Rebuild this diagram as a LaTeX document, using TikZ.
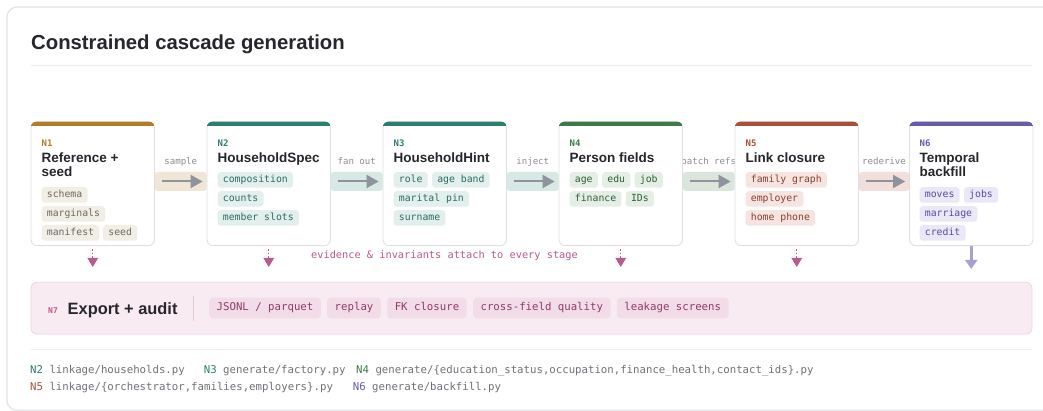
\documentclass[tikz,border=0pt]{standalone}
\usepackage{fontspec}
\setmainfont{Liberation Sans}
\setmonofont{DejaVu Sans Mono}
\usetikzlibrary{arrows.meta,calc,shadows}
\pgfdeclarelayer{bgbase}
\pgfdeclarelayer{background}
\pgfsetlayers{bgbase,background,main}
\definecolor{ink}{HTML}{26262C}
\definecolor{c1}{HTML}{B07D2B}
\definecolor{c2}{HTML}{2E7D73}
\definecolor{c3}{HTML}{2E7D73}
\definecolor{c4}{HTML}{3D7A48}
\definecolor{c5}{HTML}{A9503A}
\definecolor{c6}{HTML}{6A5BA8}
\definecolor{ch1f}{HTML}{F1EEE6}\definecolor{ch1t}{HTML}{6E685C}
\definecolor{ch2f}{HTML}{E2EFEC}\definecolor{ch2t}{HTML}{2D6B62}
\definecolor{ch4f}{HTML}{E4EEE4}\definecolor{ch4t}{HTML}{2E5E38}
\definecolor{ch5f}{HTML}{F5E4E0}\definecolor{ch5t}{HTML}{8C3F2C}
\definecolor{ch6f}{HTML}{EAE7F6}\definecolor{ch6t}{HTML}{5A4B9C}
\definecolor{ch7f}{HTML}{F2DCE8}\definecolor{ch7t}{HTML}{8B3C68}
\definecolor{pinkc}{HTML}{B65A8F}
\definecolor{n7fill}{HTML}{F8ECF2}
\definecolor{n7line}{HTML}{EFD5E3}
\definecolor{n7div}{HTML}{E6CADA}
\definecolor{foottext}{HTML}{707078}
\definecolor{rulec}{HTML}{ECECF0}
\definecolor{cardline}{HTML}{DEDEE4}
\definecolor{outerline}{HTML}{E3E3E8}
\definecolor{arrowgray}{HTML}{8E939C}
\definecolor{n6arrow}{HTML}{A99FD1}
\definecolor{b1}{HTML}{EFE6D6}
\definecolor{b2}{HTML}{D8E8E4}
\definecolor{b4}{HTML}{DAE6DB}
\definecolor{b5}{HTML}{F2DEDA}
\definecolor{bandlbl}{HTML}{8C8C92}
\tikzset{
  card/.style={draw=cardline, fill=white, rounded corners=6pt, minimum width=123.5pt,
    minimum height=123.5pt, line width=0.8pt, inner sep=0pt,
    drop shadow={opacity=0.06, shadow xshift=0pt, shadow yshift=-1pt}},
  nlabel/.style={anchor=base west, inner sep=0pt, text=#1, font=\ttfamily\bfseries\fontsize{9}{10}\selectfont},
  ctitle/.style={anchor=base west, inner sep=0pt, text=ink, font=\bfseries\fontsize{13.5}{14}\selectfont},
  chip/.style={anchor=west, fill=#1f, text=#1t, rounded corners=3pt, inner xsep=5.2pt, inner ysep=0pt,
    minimum height=15.5pt, text height=7pt, text depth=2pt, font=\ttfamily\fontsize{9.8}{10}\selectfont},
  chipx/.style={anchor=west, fill=ch7f, text=ch7t, rounded corners=3.5pt, inner xsep=7.5pt, inner ysep=0pt,
    minimum height=20.6pt, text height=7.6pt, text depth=2.2pt, font=\ttfamily\fontsize{10.7}{11}\selectfont},
  band/.style={fill=#1, rounded corners=3pt},
  bandlabel/.style={anchor=base, inner sep=0pt, text=bandlbl, font=\ttfamily\fontsize{9.1}{10}\selectfont},
  flow/.style={draw=arrowgray, line width=2pt, -{Triangle[length=12pt,width=13pt]}},
  evid/.style={draw=pinkc, line width=1.3pt, dash pattern=on 1.3pt off 2.2pt, -{Triangle[length=9pt,width=10.5pt]}},
  foot/.style={anchor=base west, inner sep=0pt, text=foottext, font=\ttfamily\fontsize{10.7}{12}\selectfont},
  rule/.style={draw=rulec, line width=1pt}
}
\newcommand{\topband}[2]{%
  \begin{scope}
    \clip[rounded corners=6pt] (#1.south west) rectangle (#1.north east);
    \fill[#2] ([yshift=-4.5pt]#1.north west) rectangle ([yshift=1pt]#1.north east);
  \end{scope}}
\begin{document}
\begin{tikzpicture}[x=1pt,y=-1pt]
\useasboundingbox (0,0) rectangle (1043,411);
\clip (0,0) rectangle (1043,411);
\begin{pgfonlayer}{bgbase}
\fill[white] (0,0) rectangle (1043,411);
\draw[draw=outerline, line width=1.2pt, fill=white, rounded corners=10pt] (7,7) rectangle (1070,410.3);
\end{pgfonlayer}

\node[anchor=base west, inner sep=0pt, text=ink, font=\bfseries\fontsize{20.3}{22}\selectfont] (title) at (31,50) {Constrained cascade generation};
\draw[rule] (31,66) -- (1032,66);

% cards
\node[card] (n1) at (92.75,183.75) {};
\node[card] (n2) at (268.75,183.75) {};
\node[card] (n3) at (444.75,183.75) {};
\node[card] (n4) at (620.75,183.75) {};
\node[card] (n5) at (796.75,183.75) {};
\node[card] (n6) at (971.25,183.75) {};
\topband{n1}{c1}\topband{n2}{c2}\topband{n3}{c3}
\topband{n4}{c4}\topband{n5}{c5}\topband{n6}{c6}

% bands & labels (behind cards)
\begin{pgfonlayer}{background}
\fill[band=b1] ([yshift=11.75pt]n1.east) rectangle ([yshift=-7.25pt]n2.west);
\fill[band=b2] ([yshift=11.75pt]n2.east) rectangle ([yshift=-7.25pt]n3.west);
\fill[band=b2] ([yshift=11.75pt]n3.east) rectangle ([yshift=-7.25pt]n4.west);
\fill[band=b4] ([yshift=11.75pt]n4.east) rectangle ([yshift=-7.25pt]n5.west);
\fill[band=b5] ([yshift=11.75pt]n5.east) rectangle ([yshift=-7.25pt]n6.west);
\node[bandlabel] (l1) at ($(n1.east)!0.5!(n2.west)+(0,-18.75)$) {sample};
\node[bandlabel] (l2) at ($(n2.east)!0.5!(n3.west)+(0,-18.75)$) {fan out};
\node[bandlabel] (l3) at ($(n3.east)!0.5!(n4.west)+(0,-18.75)$) {inject};
\node[bandlabel] (l4) at ($(n4.east)!0.5!(n5.west)+(0,-18.75)$) {patch refs};
\node[bandlabel] (l5) at ($(n5.east)!0.5!(n6.west)+(0,-18.75)$) {rederive};
\end{pgfonlayer}

\draw[flow] ([xshift=7pt,yshift=2.25pt]n1.east) -- ([xshift=-4pt,yshift=2.25pt]n2.west);
\draw[flow] ([xshift=7pt,yshift=2.25pt]n2.east) -- ([xshift=-4pt,yshift=2.25pt]n3.west);
\draw[flow] ([xshift=7pt,yshift=2.25pt]n3.east) -- ([xshift=-4pt,yshift=2.25pt]n4.west);
\draw[flow] ([xshift=7pt,yshift=2.25pt]n4.east) -- ([xshift=-4pt,yshift=2.25pt]n5.west);
\draw[flow] ([xshift=7pt,yshift=2.25pt]n5.east) -- ([xshift=-4pt,yshift=2.25pt]n6.west);

% N1
\node[nlabel=c1] (n1l) at (41.5,146.5) {N1};
\node[ctitle] (n1t) at (41.5,163) {Reference +};
\node[ctitle] (n1u) at (41.5,177) {seed};
\node[chip=ch1] (n1a) at (41.5,195) {schema};
\node[chip=ch1] (n1b) at (41.5,214) {marginals};
\node[chip=ch1] (n1c) at (41.5,233) {manifest};
\node[chip=ch1] (n1d) at ([xshift=3.5pt]n1c.east) {seed};
% N2
\node[nlabel=c2] (n2l) at (217.5,146.5) {N2};
\node[ctitle] (n2t) at (217.5,163) {HouseholdSpec};
\node[chip=ch2] (n2a) at (217.5,180) {composition};
\node[chip=ch2] (n2b) at (217.5,199) {counts};
\node[chip=ch2] (n2c) at (217.5,218) {member slots};
% N3
\node[nlabel=c3] (n3l) at (393.5,146.5) {N3};
\node[ctitle] (n3t) at (393.5,163) {HouseholdHint};
\node[chip=ch2] (n3a) at (393.5,180) {role};
\node[chip=ch2] (n3b) at ([xshift=4pt]n3a.east) {age band};
\node[chip=ch2] (n3c) at (393.5,199) {marital pin};
\node[chip=ch2] (n3d) at (393.5,218) {surname};
% N4
\node[nlabel=c4] (n4l) at (569.5,146.5) {N4};
\node[ctitle] (n4t) at (569.5,163) {Person fields};
\node[chip=ch4] (n4a) at (569.5,180) {age};
\node[chip=ch4] (n4b) at ([xshift=4pt]n4a.east) {edu};
\node[chip=ch4] (n4c) at ([xshift=4pt]n4b.east) {job};
\node[chip=ch4] (n4d) at (569.5,199) {finance};
\node[chip=ch4] (n4e) at ([xshift=4pt]n4d.east) {IDs};
% N5
\node[nlabel=c5] (n5l) at (745.5,146.5) {N5};
\node[ctitle] (n5t) at (745.5,163) {Link closure};
\node[chip=ch5] (n5a) at (745.5,180) {family graph};
\node[chip=ch5] (n5b) at (745.5,199) {employer};
\node[chip=ch5] (n5c) at (745.5,218) {home phone};
% N6
\node[nlabel=c6] (n6l) at (919.5,146.5) {N6};
\node[ctitle] (n6t) at (919.5,163) {Temporal};
\node[ctitle] (n6u) at (919.5,177) {backfill};
\node[chip=ch6] (n6a) at (919.5,195) {moves};
\node[chip=ch6] (n6b) at ([xshift=4pt]n6a.east) {jobs};
\node[chip=ch6] (n6c) at (919.5,214) {marriage};
\node[chip=ch6] (n6d) at (919.5,233) {credit};

% export box
\node[draw=n7line, fill=n7fill, rounded corners=6pt, line width=0.8pt, minimum width=1001pt, minimum height=51.7pt, inner sep=0pt] (n7) at (531.5,308.2) {};
\node[anchor=base west, inner sep=0pt, text=pinkc, font=\ttfamily\bfseries\fontsize{8}{9}\selectfont] (n7l) at (48,313.5) {N7};
\node[anchor=base west, inner sep=0pt, text=ink, font=\bfseries\fontsize{16.4}{18}\selectfont] (n7t) at (67.5,314.3) {Export + audit};
\draw[draw=n7div, line width=0.8pt] (193.5,296) -- (193.5,321);
\node[chipx] (x1) at (209,308) {JSONL / parquet};
\node[chipx] (x2) at ([xshift=6pt]x1.east) {replay};
\node[chipx] (x3) at ([xshift=6pt]x2.east) {FK closure};
\node[chipx] (x4) at ([xshift=6pt]x3.east) {cross-field quality};
\node[chipx] (x5) at ([xshift=6pt]x4.east) {leakage screens};

% evidence arrows
\draw[evid, shorten <=3.5pt, shorten >=15pt] (n1.south) -- (n1.south |- n7.north);
\draw[evid, shorten <=3.5pt, shorten >=15pt] (n2.south) -- (n2.south |- n7.north);
\draw[evid, shorten <=3.5pt, shorten >=15pt] (n4.south) -- (n4.south |- n7.north);
\draw[evid, shorten <=3.5pt, shorten >=15pt] (n5.south) -- (n5.south |- n7.north);
\draw[draw=n6arrow, line width=3.5pt, shorten <=0.5pt, shorten >=13pt, -{Triangle[length=9pt,width=12pt]}] (n6.south) -- (n6.south |- n7.north);
\node[inner sep=0pt, text=pinkc, font=\ttfamily\fontsize{10.3}{11}\selectfont] (ev) at (444.5,256) {evidence \& invariants attach to every stage};

% footer
\draw[rule] (31,349.3) -- (1032,349.3);
\node[foot] (f1) at (30,373) {\textcolor{c2}{N2} linkage/households.py};
\node[foot] (f2) at (203.7,373) {\textcolor{c3}{N3} generate/factory.py};
\node[foot] (f3) at (356,373) {\textcolor{c4}{N4} generate/\{education\_status,occupation,finance\_health,contact\_ids\}.py};
\node[foot] (f4) at (30,390.5) {\textcolor{c5}{N5} linkage/\{orchestrator,families,employers\}.py};
\node[foot] (f5) at (352.7,390.5) {\textcolor{c6}{N6} generate/backfill.py};
\end{tikzpicture}
\end{document}
